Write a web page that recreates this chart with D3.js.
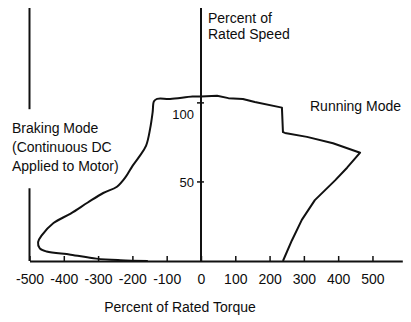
<!DOCTYPE html>
<html>
<head>
<meta charset="utf-8">
<script src="https://cdn.jsdelivr.net/npm/d3@7"></script>
<style>
  body { margin: 0; background: #fff; }
  svg text { font-family: "Liberation Sans", Arial, sans-serif; fill: #0d0d0d; }
  .curve { fill: none; stroke: #111; stroke-width: 2; stroke-linejoin: round; }
</style>
</head>
<body>
<svg id="torque_chart" width="411" height="322"></svg>
<script>

// curve: torque (%) and speed (%)
var braking_torque = [-155, -235, -305, -380, -450, -470, -475, -465, -430, -380, -330, -285, -245, -220, -200, -180, -160, -148, -141, -137, -128, -90, -25, 0];
var braking_speed  = [0, 0.5, 1.5, 4, 6, 8, 12, 16, 24, 30, 37, 43, 47, 53, 60, 66, 73, 84, 94, 101, 102.5, 102.5, 104, 104];

var running_torque = [0, 47, 80, 122, 157, 236, 239, 245, 309, 385, 464, 426, 391, 332, 294, 265, 239];
var running_speed  = [104, 104.5, 103, 102.5, 100.5, 97, 81.5, 81, 78.5, 74.5, 68.5, 59, 51, 38.5, 26, 13, 0];

var torque_ticks = [-500, -400, -300, -200, -100, 0, 100, 200, 300, 400, 500];
var speed_ticks = [50, 100];

// left frame line, broken where the braking label sits (speed values)
var left_rule = [[160, 96], [46, 0]];

var speed_title = ["Percent of", "Rated Speed"];
var braking_label = ["Braking Mode", "(Continuous DC", "Applied to Motor)"];
var running_label = "Running Mode";
var torque_title = "Percent of Rated Torque";


var svg = d3.select("#torque_chart");

var x = d3.scaleLinear().domain([-500, 587]).range([29.5, 402.3]);
var y = d3.scaleLinear().domain([0, 160]).range([261, 8]);

// left rule
svg.selectAll(".rule")
    .data(left_rule)
    .enter().append("line")
    .attr("class", "rule")
    .attr("x1", x(-500)).attr("x2", x(-500))
    .attr("y1", function(d) { return y(d[0]); })
    .attr("y2", function(d) { return y(d[1]); })
    .attr("stroke", "#111")
    .attr("stroke-width", 2);

// x axis
var xAxis = d3.axisBottom(x)
    .tickValues(torque_ticks)
    .tickSizeInner(-5)
    .tickSizeOuter(0)
    .tickPadding(13)
    .tickFormat(function(d) { return String(d); });

var gx = svg.append("g")
    .attr("class", "axis axis--x")
    .attr("transform", "translate(0," + y(0) + ")")
    .call(xAxis);

gx.attr("font-family", null).attr("font-size", null);
gx.select(".domain").attr("stroke", "#111").attr("stroke-width", 2);
gx.selectAll(".tick line").attr("stroke", "#111").attr("stroke-width", 1.5);
gx.selectAll(".tick text").style("font-size", "14px");

// y axis, drawn by hand (crossing ticks, labels on the left)
svg.append("line")
    .attr("x1", x(0)).attr("x2", x(0))
    .attr("y1", y(0)).attr("y2", y(160))
    .attr("stroke", "#111")
    .attr("stroke-width", 2);

svg.selectAll(".ytick")
    .data(speed_ticks)
    .enter().append("line")
    .attr("class", "ytick")
    .attr("x1", x(0) - 4).attr("x2", x(0) + 3)
    .attr("y1", function(d) { return y(d); })
    .attr("y2", function(d) { return y(d); })
    .attr("stroke", "#111")
    .attr("stroke-width", 1.5);

svg.selectAll(".ylabel")
    .data(speed_ticks)
    .enter().append("text")
    .attr("class", "ylabel")
    .attr("x", x(0) - 7)
    .attr("y", function(d) { return y(d) + (d === 100 ? 16 : 5); })
    .attr("text-anchor", "end")
    .style("font-size", "13px")
    .text(function(d) { return d; });

// the curves
var smooth_line = d3.line()
    .curve(d3.curveCatmullRom.alpha(0.5))
    .x(function(d) { return x(d[0]); })
    .y(function(d) { return y(d[1]); });

var line = d3.line()
    .x(function(d) { return x(d[0]); })
    .y(function(d) { return y(d[1]); });

svg.append("path")
    .datum(d3.zip(braking_torque, braking_speed))
    .attr("class", "curve")
    .attr("d", smooth_line);

svg.append("path")
    .datum(d3.zip(running_torque, running_speed))
    .attr("class", "curve")
    .attr("d", line);

// texts
svg.append("text")
    .selectAll("tspan")
    .data(speed_title)
    .enter().append("tspan")
    .attr("x", 208)
    .attr("y", function(d, i) { return 23 + i * 16; })
    .style("font-size", "14px")
    .text(function(d) { return d; });

svg.append("text")
    .selectAll("tspan")
    .data(braking_label)
    .enter().append("tspan")
    .attr("x", 12)
    .attr("y", function(d, i) { return 133 + i * 19; })
    .style("font-size", "14px")
    .text(function(d) { return d; });

svg.append("text")
    .attr("x", 310)
    .attr("y", 111)
    .style("font-size", "14px")
    .text(running_label);

svg.append("text")
    .attr("x", 180)
    .attr("y", 312)
    .attr("text-anchor", "middle")
    .style("font-size", "14px")
    .text(torque_title);

</script>
</body>
</html>
